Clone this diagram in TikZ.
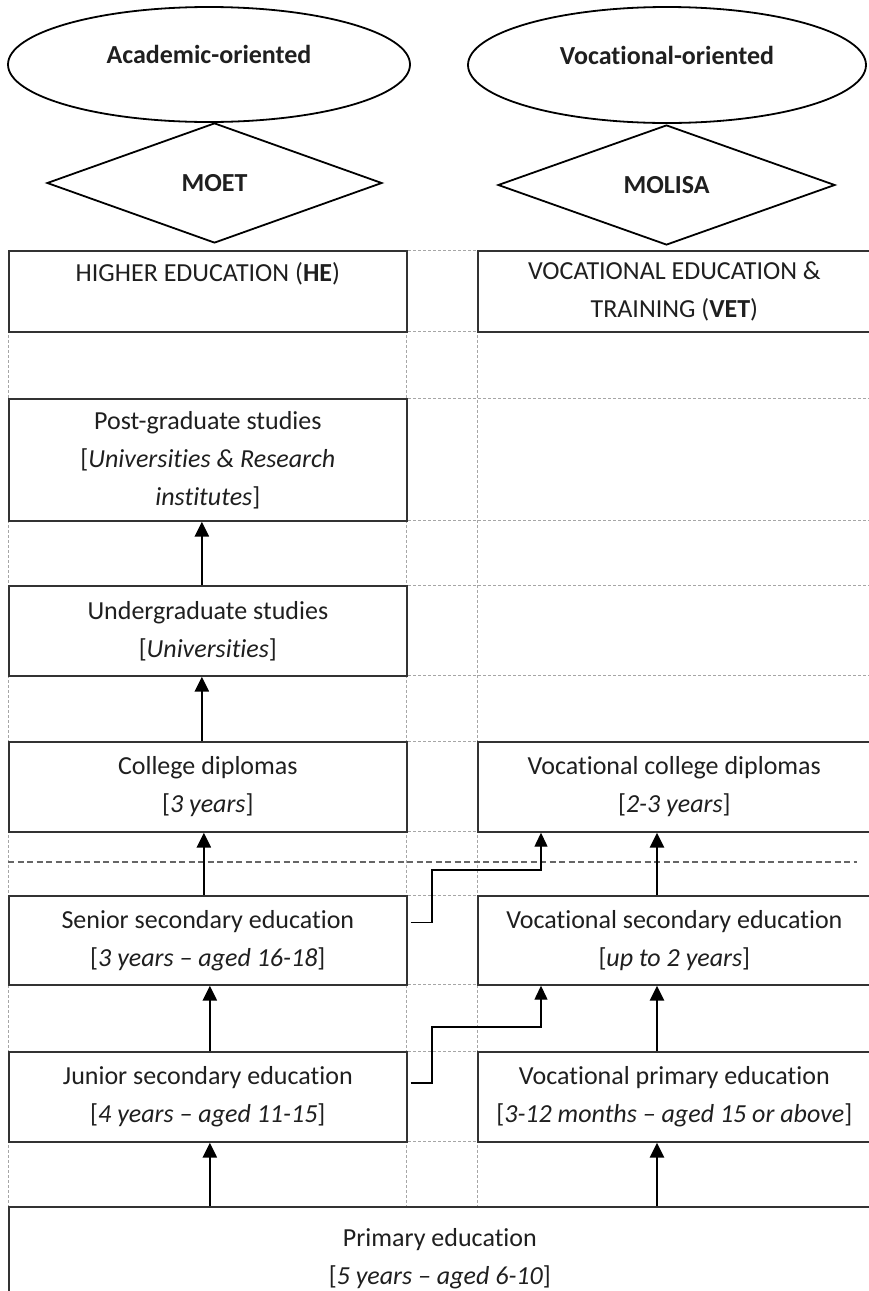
\documentclass[tikz,border=0pt]{standalone}
\usepackage{fontspec}
\setmainfont{Carlito}[Ligatures={TeX,NoCommon}]
\usetikzlibrary{shapes.geometric,arrows.meta,calc}

\begin{document}
\begin{tikzpicture}[x=1pt,y=-1pt,
  every node/.style={font=\fontsize{26}{38}\selectfont, text=black!88},
  box/.style={draw=black!80, line width=1.7pt, fill=white, rectangle,
              inner sep=0pt, align=center, anchor=north west},
  lbox/.style={box, minimum width=398pt},
  rbox/.style={box, minimum width=393pt},
  grid/.style={draw=black!35, line width=0.9pt, dash pattern=on 3pt off 2pt},
  split/.style={draw=black!60, line width=1.4pt, dash pattern=on 6pt off 3.5pt},
  up/.style={draw=black, line width=2.6pt, -{Triangle[length=15pt,width=14pt]}},
  link/.style={draw=black, line width=1.3pt, -{Triangle[length=14pt,width=13pt]}},
  oval/.style={ellipse, draw=black, line width=1.8pt, inner sep=0pt},
  rhomb/.style={diamond, draw=black, line width=1.8pt, inner sep=0pt},
]
\useasboundingbox (0,0) rectangle (868,1291);

% orientation ellipses and ministries
\node[oval, minimum width=402pt, minimum height=115pt] (ao) at (209,64.5)
  {\raisebox{20pt}{\bfseries Academic-oriented}};
\node[oval, minimum width=398pt, minimum height=116pt] (vo) at (667,65)
  {\raisebox{20pt}{\bfseries Vocational-oriented}};
\node[rhomb, minimum width=335pt, minimum height=120pt] (moet) at (214.5,183)
  {\bfseries MOET};
\node[rhomb, minimum width=337pt, minimum height=120pt] (molisa) at (666.5,185)
  {\bfseries MOLISA};

% table grid
\foreach \y in {250,331,398,520,585,675,741,831,895,984,1051,1141,1206}
  \draw[grid] (8,\y) -- (870,\y);
\foreach \x in {8,406,477}
  \draw[grid] (\x,250) -- (\x,1206);
\draw[split] (8,862) -- (857,862);

% higher education column
\node[lbox, minimum height=81pt] (he) at (8,250)
  {HIGHER EDUCATION ({\bfseries HE})\\ \mbox{}};
\node[lbox, minimum height=122pt] (pg) at (8,398)
  {Post-graduate studies\\ {[}\textit{Universities \& Research}\\ \textit{institutes}{]}};
\node[lbox, minimum height=90pt] (ug) at (8,585)
  {Undergraduate studies\\ {[}\textit{Universities}{]}};
\node[lbox, minimum height=90pt] (cd) at (8,741)
  {College diplomas\\ {[}\textit{3 years}{]}};
\node[lbox, minimum height=89pt] (sse) at (8,895)
  {Senior secondary education\\ {[}\textit{3 years – aged 16-18}{]}};
\node[lbox, minimum height=90pt] (jse) at (8,1051)
  {Junior secondary education\\ {[}\textit{4 years – aged 11-15}{]}};

% vocational column
\node[rbox, minimum height=81pt] (vet) at (477,250)
  {VOCATIONAL EDUCATION \&\\ TRAINING ({\bfseries VET})};
\node[rbox, minimum height=90pt] (vcd) at (477,741)
  {Vocational college diplomas\\ {[}\textit{2-3 years}{]}};
\node[rbox, minimum height=89pt] (vse) at (477,895)
  {Vocational secondary education\\ {[}\textit{up to 2 years}{]}};
\node[rbox, minimum height=90pt] (vpe) at (477,1051)
  {Vocational primary education\\ {[}\textit{3-12 months – aged 15 or above}{]}};

% common base
\node[box, minimum width=862pt, minimum height=103pt] (pe) at (8,1206)
  {Primary education\\ {[}\textit{5 years – aged 6-10}{]}};

% progression arrows
\coordinate (ra) at (657,0);
\draw[up] ([xshift=-6pt]ug.north) -- ([xshift=-6pt]pg.south);
\draw[up] ([xshift=-6pt]cd.north) -- ([xshift=-6pt]ug.south);
\draw[up] ([xshift=-4pt]sse.north) -- ([xshift=-4pt]cd.south);
\draw[up] ([xshift=2pt]jse.north) -- ([xshift=2pt]sse.south);
\draw[up] (pe.north -| jse.north) ++(2,0) -- ([xshift=2pt]jse.south);
\draw[up] (vse.north -| ra) -- (vcd.south -| ra);
\draw[up] (vpe.north -| ra) -- (vse.south -| ra);
\draw[up] (pe.north -| ra) -- (vpe.south -| ra);

% crossings from the academic to the vocational track
\coordinate (b1) at (432,870);
\coordinate (k1) at (541,870);
\coordinate (b2) at (432,1027);
\coordinate (k2) at (541,1027);
\draw[link] ([shift={(3,-18)}]sse.east) -| (b1) -- (k1) -- (vcd.south -| k1);
\draw[link] ([shift={(3,-14)}]jse.east) -| (b2) -- (k2) -- (vse.south -| k2);
\end{tikzpicture}
\end{document}
